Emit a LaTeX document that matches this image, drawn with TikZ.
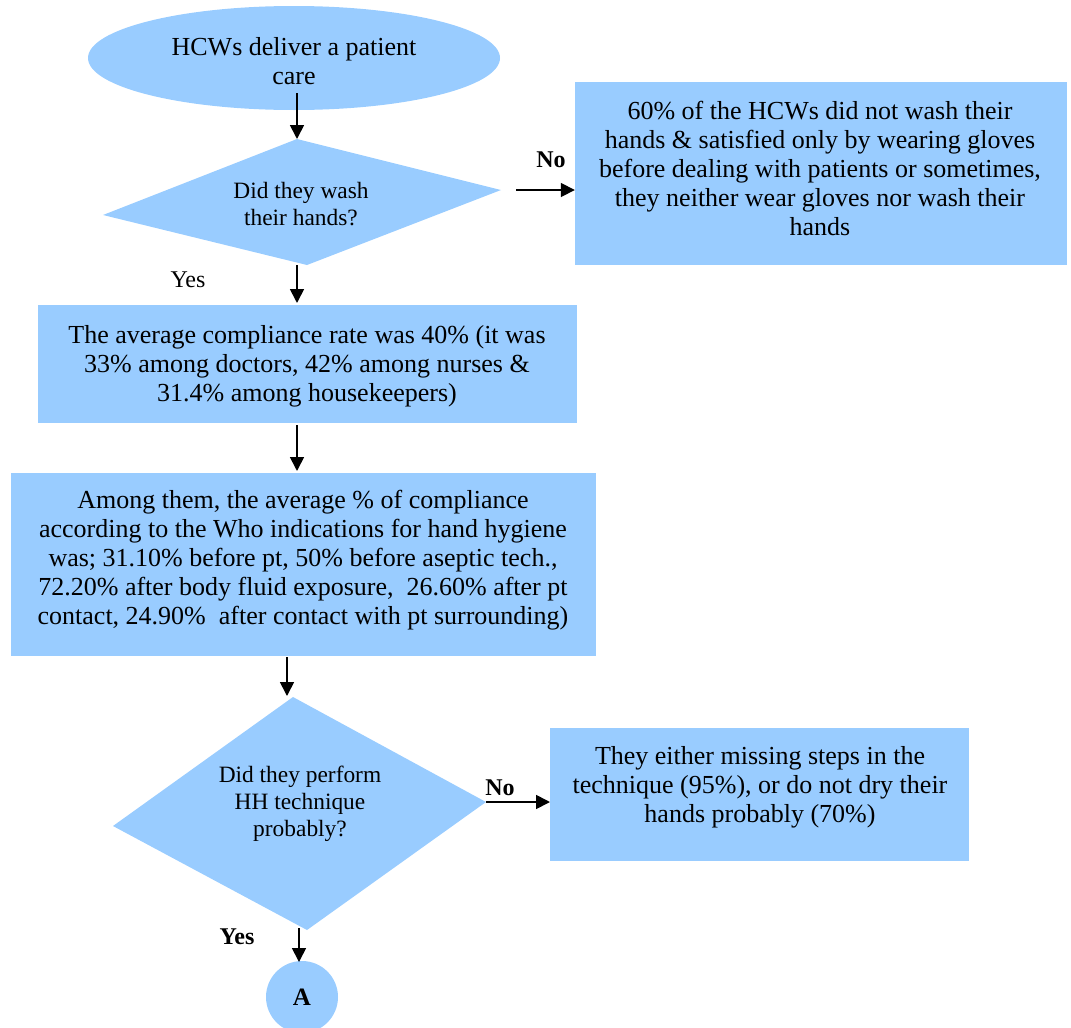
\documentclass[tikz,border=0pt]{standalone}
\usepackage{fontspec}
\IfFontExistsTF{LiberationSerif-Regular.ttf}
  {\setmainfont{LiberationSerif}[Extension=.ttf,UprightFont=*-Regular,BoldFont=*-Bold,ItalicFont=*-Italic,BoldItalicFont=*-BoldItalic]}
  {\setmainfont{Liberation Serif}}
\usetikzlibrary{shapes.geometric,arrows.meta}
\definecolor{hcblue}{RGB}{153,204,255}
\begin{document}
\begin{tikzpicture}[x=1pt,y=-1pt,
  shapefill/.style={fill=hcblue,draw=none},
  boxshape/.style={shapefill,rectangle,inner sep=0pt},
  txt/.style={align=center,font=\fontsize{26}{29}\selectfont,inner sep=0pt},
  dtxt/.style={align=center,font=\fontsize{23.4}{27}\selectfont,inner sep=0pt},
  lbl/.style={font=\fontsize{24}{28}\selectfont,inner sep=0pt},
  blbl/.style={font=\fontsize{24}{28}\selectfont\bfseries,inner sep=0pt},
  conn/.style={line width=1.7pt,-{Triangle[length=14pt,width=14pt]}}]
\useasboundingbox (0,0) rectangle (1071,1028);

% shapes
\node[shapefill,ellipse,minimum width=412,minimum height=104,inner sep=0pt] (start) at (294,58) {};
\coordinate (d1t) at (297,139);
\coordinate (d1r) at (501,190);
\coordinate (d1b) at (307,265);
\coordinate (d1l) at (103,215);
\fill[hcblue] (d1t) -- (d1r) -- (d1b) -- (d1l) -- cycle;
\node[boxshape,minimum width=539,minimum height=118] (b1) at (307.5,364) {};
\node[boxshape,minimum width=585,minimum height=183] (b2) at (303.5,564.5) {};
\node[boxshape,minimum width=492,minimum height=183] (b3) at (821,173.5) {};
\node[boxshape,minimum width=419,minimum height=133] (b4) at (759.5,794.5) {};
\coordinate (d2t) at (293,697);
\coordinate (d2r) at (486,802);
\coordinate (d2b) at (307,930);
\coordinate (d2l) at (113,826);
\fill[hcblue] (d2t) -- (d2r) -- (d2b) -- (d2l) -- cycle;
\node[shapefill,circle,minimum size=72,inner sep=0pt] (A) at (302,997) {};

% texts
\node[txt] (tstart) at (294,61) {HCWs deliver a patient\\care};
\node[dtxt] (td1) at (301,204) {Did they wash\\their hands?};
\node[lbl] (yes1) at (188,280) {Yes};
\node[blbl] (no1) at (551,160) {No};
\node[txt] (tb1) at (307,366) {The average compliance rate was 40\% (it was\\33\% among doctors, 42\% among nurses \&\\31.4\% among housekeepers)};
\node[txt] (tb2) at (303,560.5) {Among them, the average \% of compliance\\according to the Who indications for hand hygiene\\was; 31.10\% before pt, 50\% before aseptic tech.,\\72.20\% after body fluid exposure,\ \ 26.60\% after pt\\contact, 24.90\%\ \ after contact with pt surrounding)};
\node[txt] (tb3) at (820,168.5) {60\% of the HCWs did not wash their\\hands \& satisfied only by wearing gloves\\before dealing with patients or sometimes,\\they neither wear gloves nor wash their\\hands};
\node[dtxt] (td2) at (300,804) {Did they perform\\HH technique\\probably?};
\node[blbl] (no2) at (500,788) {No};
\node[txt] (tb4) at (760,787) {They either missing steps in the\\technique (95\%), or do not dry their\\hands probably (70\%)};
\node[blbl] (yes2) at (237,937) {Yes};
\node[blbl,font=\fontsize{25}{28}\selectfont\bfseries] (tA) at (A) {A};

% connectors
\coordinate (a1s) at (297,93);
\coordinate (a2s) at (297,265);
\coordinate (a2e) at (297,303);
\coordinate (a3s) at (297,425);
\coordinate (a3e) at (297,471);
\coordinate (a4s) at (287,657);
\coordinate (a4e) at (287,696);
\coordinate (a5s) at (516,190);
\coordinate (a6e) at (550,802);
\coordinate (a7s) at (299,928);
\coordinate (a7e) at (299,962);
\draw[conn] (a1s) -- (d1t);
\draw[conn] (a2s) -- (a2e);
\draw[conn] (a3s) -- (a3e);
\draw[conn] (a4s) -- (a4e);
\draw[conn] (a5s) -- (b3.west |- a5s);
\draw[conn] (d2r) -- (a6e);
\draw[conn] (a7s) -- (a7e);
\end{tikzpicture}
\end{document}
